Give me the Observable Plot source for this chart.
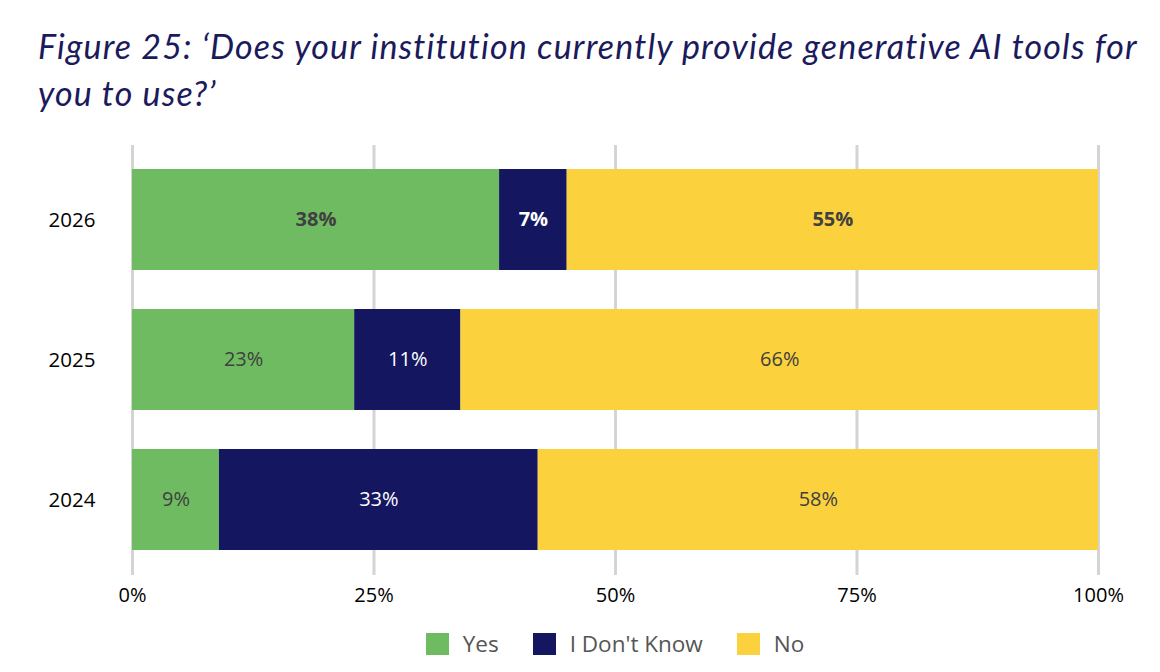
<!DOCTYPE html>
<html>
<head>
<meta charset="utf-8">
<script src="https://cdn.jsdelivr.net/npm/d3@7"></script>
<script src="https://cdn.jsdelivr.net/npm/@observablehq/plot@0.6"></script>
<style>
  body { margin: 0; background: #fff; width: 1160px; height: 672px; overflow: hidden; font-family: "Open Sans", sans-serif; }
  #title { position: absolute; left: 38px; top: 22px; width: 1120px; font-family: Lato, sans-serif; font-style: italic; font-size: 34px; letter-spacing: 1.15px; line-height: 47px; color: #1b1a5c; white-space: nowrap; }
  #chart { position: absolute; left: 0; top: 125px; }
  #legend { position: absolute; top: 628px; left: 132px; width: 966px; display: flex; justify-content: center; align-items: center; font-size: 22.5px; color: #555; }
  .item { display: flex; align-items: center; margin: 0 17px; }
  .sw { width: 23px; height: 22px; margin-right: 14px; }
</style>
</head>
<body>
<div id="title">Figure 25: ‘Does your institution currently provide generative AI tools for<br>you to use?’</div>
<div id="chart"></div>
<div id="legend"></div>
<script>
const years = ["2026", "2025", "2024"];
const categories = ["Yes", "I Don't Know", "No"];
const yesValues = [38, 23, 9];
const dontKnowValues = [7, 11, 33];
const noValues = [55, 66, 58];
const colors = ["#6fbb62", "#141660", "#fcd13e"];
const xTicks = [0, 25, 50, 75, 100];
const xTickLabels = ["0%", "25%", "50%", "75%", "100%"];

const series = [yesValues, dontKnowValues, noValues];
const data = [];
categories.forEach((cat, ci) => {
  years.forEach((yr, yi) => {
    data.push({year: yr, cat, value: series[ci][yi]});
  });
});

const textFill = d => d.cat === "I Don't Know" ? "#ffffff" : "#404040";

const plot = Plot.plot({
  width: 1160,
  height: 500,
  marginLeft: 132,
  marginRight: 62,
  marginTop: 20,
  marginBottom: 50,
  style: {fontFamily: "'Open Sans', sans-serif", fontSize: "20px", color: "#000"},
  x: {domain: [0, 100], ticks: xTicks, tickFormat: d => xTickLabels[xTicks.indexOf(d)], tickSize: 0, tickPadding: 12, label: null},
  y: {domain: years, paddingInner: 0.276, paddingOuter: 0.172, tickSize: 0, tickPadding: 37, label: null},
  color: {domain: categories, range: colors},
  marks: [
    Plot.gridX(xTicks, {stroke: "#d4d4d4", strokeWidth: 3, strokeOpacity: 1}),
    Plot.barX(data, Plot.stackX({x: "value", y: "year", z: "cat", fill: "cat", order: categories})),
    Plot.text(data.filter(d => d.year === "2026"), Plot.stackX({x: "value", y: "year", z: "cat", order: categories, text: d => d.value + "%", fill: textFill, fontSize: 20, fontWeight: "bold"})),
    Plot.text(data.filter(d => d.year !== "2026"), Plot.stackX({x: "value", y: "year", z: "cat", order: categories, text: d => d.value + "%", fill: textFill, fontSize: 20})),
    Plot.axisX({ticks: xTicks, tickFormat: d => xTickLabels[xTicks.indexOf(d)], tickSize: 0, tickPadding: 12, fontSize: 20, fill: "#000", label: null}),
    Plot.axisY({tickSize: 0, tickPadding: 37, fontSize: 20.5, fill: "#000", label: null})
  ]
});
document.getElementById("chart").appendChild(plot);

const legend = document.getElementById("legend");
categories.forEach((c, i) => {
  const item = document.createElement("div");
  item.className = "item";
  const sw = document.createElement("div");
  sw.className = "sw";
  sw.style.background = colors[i];
  const lab = document.createElement("span");
  lab.textContent = c;
  item.appendChild(sw);
  item.appendChild(lab);
  legend.appendChild(item);
});
</script>
</body>
</html>
